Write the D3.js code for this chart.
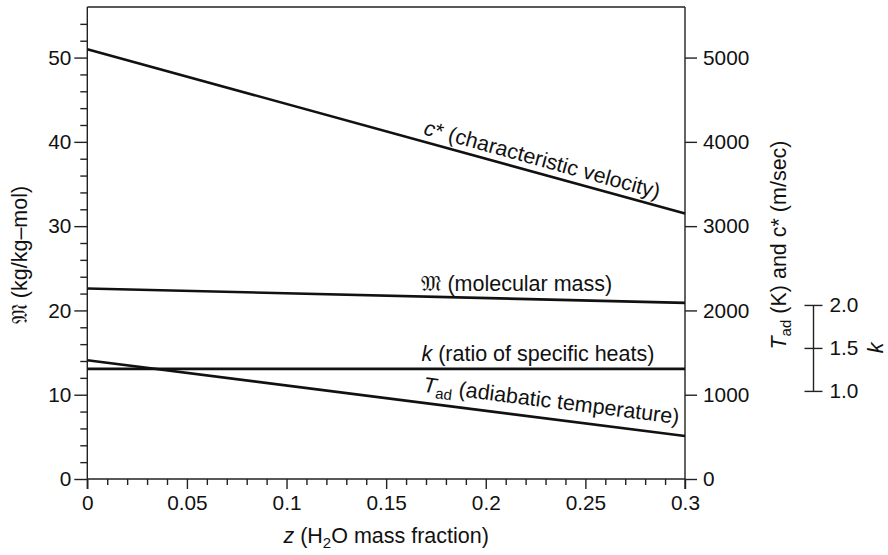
<!DOCTYPE html>
<html>
<head>
<meta charset="utf-8">
<script src="https://cdn.jsdelivr.net/npm/d3@7"></script>
<style>
  html, body { margin: 0; padding: 0; background: #fff; }
  svg text { font-family: "Liberation Sans", Arial, Helvetica, sans-serif; fill: #111; }
</style>
</head>
<body>
<svg id="chart" width="888" height="555"></svg>
<script>
// ---- data ----
const zValues = [0, 0.3];
const cStar = [5100, 3150];          // m/sec (right axis)
const molecularMass = [22.6, 20.9];  // kg/kg-mol (left axis)
const kRatio = [1.256, 1.256];       // ratio of specific heats (k axis)
const tAd = [1409, 510];             // K (right axis)

const xTicksMajor = [0, 0.05, 0.1, 0.15, 0.2, 0.25, 0.3];
const xTickLabels = ["0", "0.05", "0.1", "0.15", "0.2", "0.25", "0.3"];
const leftTicksMajor = [0, 10, 20, 30, 40, 50];
const rightTicksMajor = [0, 1000, 2000, 3000, 4000, 5000];
const kTicks = [1.0, 1.5, 2.0];
const kTickLabels = ["1.0", "1.5", "2.0"];

// ---- layout ----
const X0 = 87.3, X1 = 685, YTOP = 7, YBOT = 479;
const svg = d3.select("#chart");
const FS = 20.8;   // tick labels
const LFS = 21.5;  // labels and titles

const x = d3.scaleLinear().domain([0, 0.3]).range([X0, X1]);
const yL = d3.scaleLinear().domain([0, 56]).range([YBOT, YTOP]);
const yR = d3.scaleLinear().domain([0, 5600]).range([YBOT, YTOP]);
const yK = d3.scaleLinear().domain([1, 2]).range([yL(10.45), yL(20.65)]);

const axisColor = "#222";

// top frame
svg.append("line").attr("x1", X0).attr("x2", X1).attr("y1", YTOP).attr("y2", YTOP)
  .attr("stroke", axisColor).attr("stroke-width", 1.4);

// bottom axis
const minorX = d3.range(0, 31).map(d => d / 100).filter(d => Math.round(d * 100) % 5 !== 0);
const gx = svg.append("g").attr("transform", `translate(0,${YBOT})`);
gx.call(d3.axisBottom(x).tickValues(minorX).tickSize(6).tickFormat(""));
gx.call(g => g.select(".domain").remove());
const gx2 = svg.append("g").attr("transform", `translate(0,${YBOT})`);
gx2.call(d3.axisBottom(x).tickValues(xTicksMajor).tickSize(10).tickPadding(6)
  .tickFormat((d, i) => xTickLabels[i]));
gx2.select(".domain").attr("d", `M${X0},0H${X1}`);

// left axis
const minorL = d3.range(0, 56, 2).filter(d => d % 10 !== 0);
const gl = svg.append("g").attr("transform", `translate(${X0},0)`);
gl.call(d3.axisLeft(yL).tickValues(minorL).tickSize(7).tickFormat(""));
gl.call(g => g.select(".domain").remove());
const gl2 = svg.append("g").attr("transform", `translate(${X0},0)`);
gl2.call(d3.axisLeft(yL).tickValues(leftTicksMajor).tickSize(13).tickPadding(3).tickFormat(d3.format("d")));
gl2.select(".domain").attr("d", `M0,${YTOP}V${YBOT + 10}`);

// right axis
const gr = svg.append("g").attr("transform", `translate(${X1},0)`);
gr.call(d3.axisRight(yR).tickValues(rightTicksMajor).tickSize(12).tickPadding(6).tickFormat(d3.format("d")));
gr.select(".domain").attr("d", `M0,${YTOP}V${YBOT + 10}`);

// k axis
const KX = 813.5;
const gk = svg.append("g").attr("transform", `translate(${KX},0)`);
gk.call(d3.axisRight(yK).tickValues(kTicks).tickSize(9).tickPadding(7).tickFormat((d, i) => kTickLabels[i]));
gk.select(".domain").attr("d", `M0,${yK(1)}V${yK(2)}`);
gk.selectAll(".tick line").attr("x1", -9);

[gx, gx2, gl, gl2, gr, gk].forEach(g => {
  g.selectAll("path, line").attr("stroke", axisColor).attr("stroke-width", 1.4);
  g.selectAll("text").attr("font-size", FS).attr("fill", "#111")
    .attr("font-family", "Liberation Sans, Arial, sans-serif");
});

// ---- series lines ----
const mk = (vals, yScale) => d3.line().x((d, i) => x(zValues[i])).y(d => yScale(d))(vals);
const lineStyle = p => p.attr("fill", "none").attr("stroke", "#111").attr("stroke-width", 2.6);
svg.append("path").attr("d", mk(cStar, yR)).call(lineStyle);
svg.append("path").attr("d", mk(molecularMass, yL)).call(lineStyle);
svg.append("path").attr("d", mk(kRatio, yK)).call(lineStyle);
svg.append("path").attr("d", mk(tAd, yR)).call(lineStyle);

// ---- line labels ----
function angleOf(vals, yScale) {
  const dx = x(zValues[1]) - x(zValues[0]);
  const dy = yScale(vals[1]) - yScale(vals[0]);
  return Math.atan2(dy, dx) * 180 / Math.PI;
}
function yAt(vals, yScale, z) {
  const t = (z - zValues[0]) / (zValues[1] - zValues[0]);
  return yScale(vals[0] + (vals[1] - vals[0]) * t);
}

// c* label, rotated along line
{
  const z0 = 0.1675, a = angleOf(cStar, yR);
  const t = svg.append("text")
    .attr("transform", `translate(${x(z0)},${yAt(cStar, yR, z0)}) rotate(${a}) translate(0,-7)`)
    .attr("font-size", LFS);
  t.append("tspan").attr("font-style", "italic").text("c");
  t.append("tspan").text("* (characteristic velocity)");
}
// Tad label, rotated along line
{
  const z0 = 0.1675, a = angleOf(tAd, yR);
  const t = svg.append("text")
    .attr("transform", `translate(${x(z0)},${yAt(tAd, yR, z0)}) rotate(${a}) translate(0,-11)`)
    .attr("font-size", LFS);
  t.append("tspan").attr("font-style", "italic").text("T");
  t.append("tspan").attr("font-size", 15).attr("dy", 5).text("ad");
  t.append("tspan").attr("dy", -5).text(" (adiabatic temperature)");
}
// molecular mass label
{
  const t = svg.append("text").attr("x", x(0.1677)).attr("y", 291).attr("font-size", LFS);
  t.append("tspan").attr("font-family", "DejaVu Sans, DejaVu Serif, serif").attr("font-size", 22).text("𝔐");
  t.append("tspan").text(" (molecular mass)");
}
// k label
{
  const t = svg.append("text").attr("x", x(0.1677)).attr("y", 361).attr("font-size", LFS);
  t.append("tspan").attr("font-style", "italic").text("k");
  t.append("tspan").text(" (ratio of specific heats)");
}

// ---- axis titles ----
{
  const t = svg.append("text").attr("text-anchor", "middle")
    .attr("transform", `translate(${(X0 + X1) / 2},543)`).attr("font-size", LFS);
  t.append("tspan").attr("font-style", "italic").text("z");
  t.append("tspan").text(" (H");
  t.append("tspan").attr("font-size", 15).attr("dy", 5).text("2");
  t.append("tspan").attr("dy", -5).text("O mass fraction)");
}
{
  const t = svg.append("text").attr("text-anchor", "middle")
    .attr("transform", `translate(27,255) rotate(-90)`).attr("font-size", LFS);
  t.append("tspan").attr("font-family", "DejaVu Sans, DejaVu Serif, serif").attr("font-size", 22).text("𝔐");
  t.append("tspan").text(" (kg/kg–mol)");
}
{
  const t = svg.append("text").attr("text-anchor", "middle")
    .attr("transform", `translate(786,245) rotate(-90)`).attr("font-size", LFS);
  t.append("tspan").attr("font-style", "italic").text("T");
  t.append("tspan").attr("font-size", 15).attr("dy", 5).text("ad");
  t.append("tspan").attr("dy", -5).text(" (K) and c* (m/sec)");
}
{
  svg.append("text").attr("text-anchor", "middle")
    .attr("transform", `translate(883,${yK(1.5)}) rotate(-90)`)
    .attr("font-size", LFS).attr("font-style", "italic").text("k");
}
</script>
</body>
</html>
